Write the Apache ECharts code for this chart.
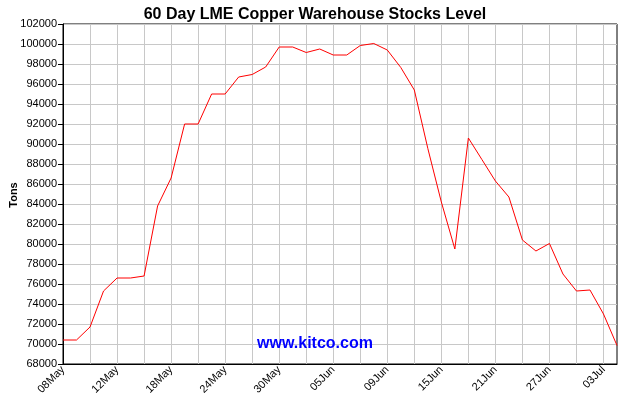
<!DOCTYPE html>
<html><head><meta charset="utf-8">
<script src="https://cdn.jsdelivr.net/npm/echarts@6/dist/echarts.min.js"></script>
<style>html,body{margin:0;padding:0;background:#fff}#c{width:630px;height:400px}</style>
</head><body><div id="c"></div>
<script>
var dates = ["08May","09May","10May","11May","12May","15May","16May","17May","18May","19May","22May","23May","24May","25May","26May","29May","30May","31May","01Jun","02Jun","05Jun","06Jun","07Jun","08Jun","09Jun","12Jun","13Jun","14Jun","15Jun","16Jun","19Jun","20Jun","21Jun","22Jun","23Jun","26Jun","27Jun","28Jun","29Jun","30Jun","03Jul","04Jul"];
var stocks = [70400,70400,71700,75300,76600,76600,76800,83800,86600,92000,92000,95000,95000,96700,96950,97700,99700,99700,99150,99500,98900,98900,99850,100050,99400,97650,95400,89550,84200,79500,90600,88450,86300,84700,80400,79300,80050,77000,75300,75400,73000,69850];
var yMin = 68000, yMax = 102000, yStep = 2000;

var chart = echarts.init(document.getElementById('c'), null, {renderer:'canvas'});
chart.setOption({
  animation:false,
  backgroundColor:'#fff',
  title:{text:'60 Day LME Copper Warehouse Stocks Level',left:'center',top:2,
    textStyle:{fontFamily:'Liberation Sans, Arial',fontSize:16,fontWeight:'bold',color:'#000'}},
  grid:{left:63,right:13,top:24,bottom:36,containLabel:false,outerBoundsMode:'none',show:true,borderColor:'#000',borderWidth:1,backgroundColor:'transparent'},
  xAxis:{type:'category',data:dates,boundaryGap:false,
    axisLine:{show:true,lineStyle:{color:'#000',width:1}},
    axisTick:{show:false},
    axisLabel:{interval:3,rotate:45,fontFamily:'Liberation Sans, Arial',fontSize:11,color:'#000',margin:4},
    splitLine:{show:true,interval:1,lineStyle:{color:'#c8c8c8',width:1}}},
  yAxis:{type:'value',min:yMin,max:yMax,interval:yStep,
    axisLine:{show:true,lineStyle:{color:'#000',width:1}},
    axisTick:{show:true,length:5,lineStyle:{color:'#000'}},
    axisLabel:{fontFamily:'Liberation Sans, Arial',fontSize:11,color:'#000',margin:6,formatter:function(v){return String(v);}},
    splitLine:{show:true,lineStyle:{color:'#c8c8c8',width:1}}},
  graphic:[
    {type:'text',left:'center',top:336,z:10,style:{text:'www.kitco.com',fill:'#0000ff',
      font:'bold 16px "Liberation Sans", Arial'}},
    {type:'text',x:14,y:195,rotation:Math.PI/2,z:10,style:{text:'Tons',fill:'#000',align:'center',verticalAlign:'middle',
      font:'bold 11px "Liberation Sans", Arial'}}
  ],
  series:[{type:'line',data:stocks,symbol:'none',lineStyle:{color:'#ff0000',width:1},z:3}]
});
</script></body></html>
